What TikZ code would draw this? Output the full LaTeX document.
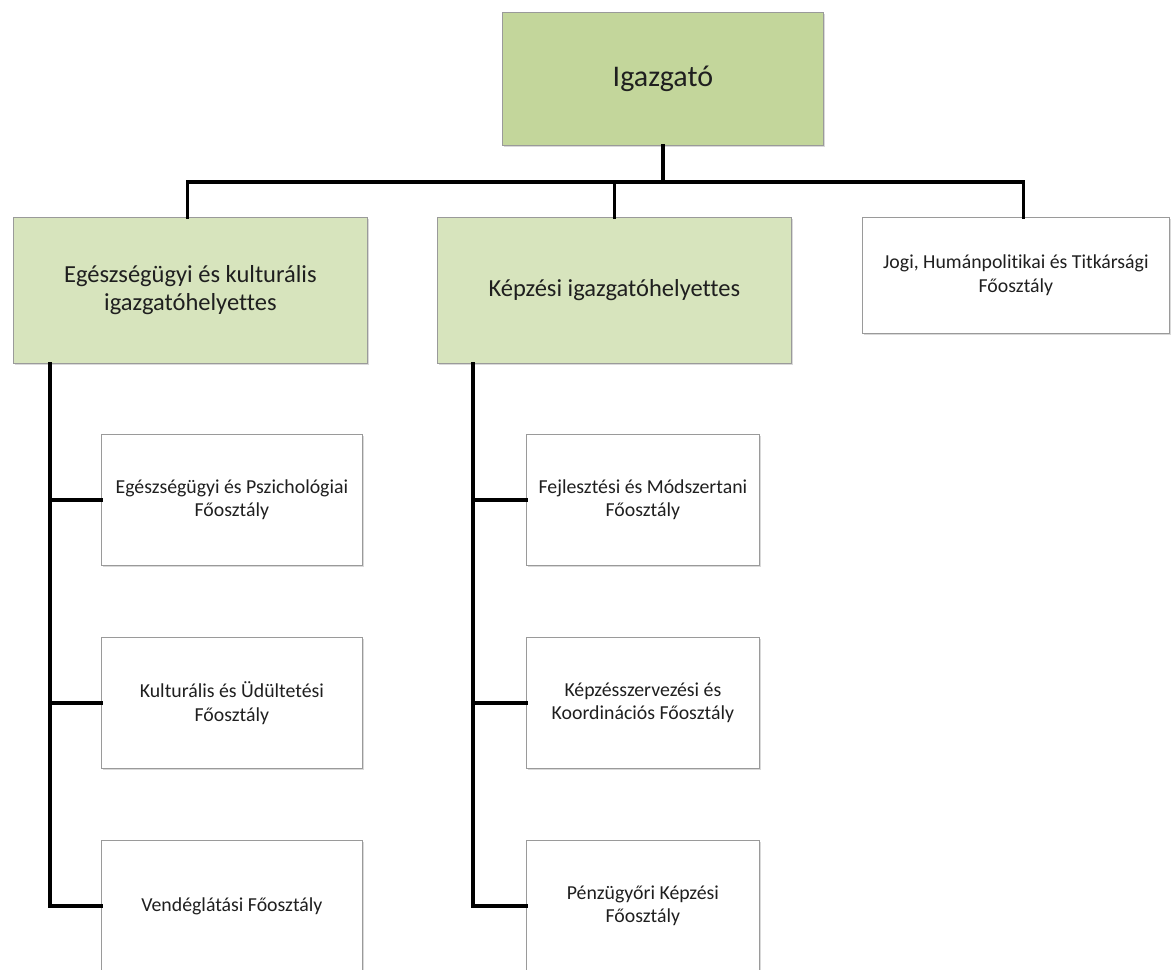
\documentclass[tikz,border=0pt]{standalone}
\usepackage{fontspec}
\setmainfont{Carlito}[Ligatures=NoCommon]
\usetikzlibrary{shadows}
\definecolor{olive1}{HTML}{C3D69B}
\definecolor{olive2}{HTML}{D7E4BD}
\definecolor{rim}{HTML}{9A9A9A}
\definecolor{ink}{HTML}{1F1F1F}

\begin{document}
\begin{tikzpicture}[x=1pt, y=-1pt,
  box/.style={draw=rim, line width=0.8pt, anchor=north west, inner sep=0pt,
    align=center, text=ink,
    drop shadow={shadow xshift=1.5pt, shadow yshift=-2pt, opacity=0.3}},
  head/.style={box, fill=olive1, minimum width=321pt, minimum height=133pt,
    font=\fontsize{30}{35}\selectfont},
  deputy/.style={box, fill=olive2, minimum width=354pt, minimum height=146pt,
    font=\fontsize{24.5}{28}\selectfont},
  dept/.style={box, fill=white, minimum height=131pt,
    font=\fontsize{19.8}{23.5}\selectfont},
  wire/.style={line width=3.5pt, line cap=rect}]
\useasboundingbox (0,0) rectangle (1171,970);
% director
\node[head] (dir) at (502,12) {Igazgató};
% deputies
\node[deputy] (dep1) at (13,217) {Egészségügyi és kulturális\\igazgatóhelyettes};
\node[deputy] (dep2) at (437,217) {Képzési igazgatóhelyettes};
\node[dept, minimum width=307pt, minimum height=116pt] (dep3) at (862,217)
  {Jogi, Humánpolitikai és Titkársági\\Főosztály};
% departments
\foreach \n/\y/\txt in {1/434/{Egészségügyi és Pszichológiai\\Főosztály},
    2/637/{Kulturális és Üdültetési\\Főosztály}, 3/840/{Vendéglátási Főosztály}}
  \node[dept, minimum width=261pt] (a\n) at (101,\y) {\txt};
\foreach \n/\y/\txt in {1/434/{Fejlesztési és Módszertani\\Főosztály},
    2/637/{Képzésszervezési és\\Koordinációs Főosztály}, 3/840/{Pénzügyőri Képzési\\Főosztály}}
  \node[dept, minimum width=233pt] (b\n) at (526,\y) {\txt};
% director to deputies
\coordinate (bar) at (0,182);
\draw[wire] (dir.south) -- (dir.south |- bar);
\foreach \d/\dx in {dep1/-3, dep2/0, dep3/7.5}
  \draw[wire] (dir.south |- bar) -| ([xshift=\dx pt]\d.north);
% deputies to departments
\foreach \n in {1,2,3}{
  \draw[wire] ([xshift=37pt]dep1.south west) |- (a\n.west);
  \draw[wire] ([xshift=36pt]dep2.south west) |- (b\n.west);
}
\end{tikzpicture}
\end{document}
